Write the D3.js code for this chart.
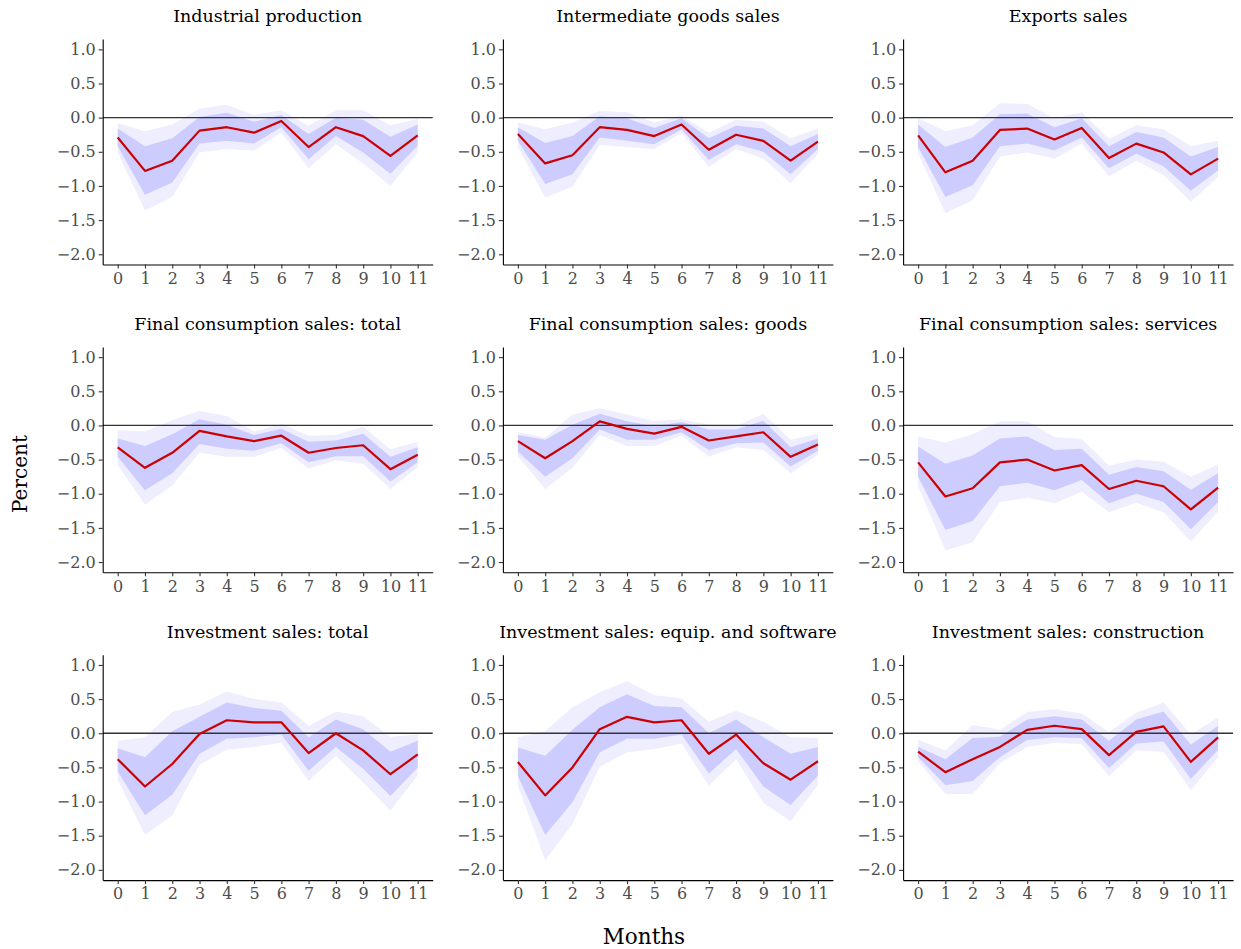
<!DOCTYPE html>
<html>
<head>
<meta charset="utf-8">
<script src="https://cdn.jsdelivr.net/npm/d3@7"></script>
<style>
  body { margin: 0; background: #fff; }
  svg { display: block; }
  text { font-family: "DejaVu Serif", serif; }
</style>
</head>
<body>
<div id="chart"></div>
<script>
// ---------- data ----------
const months = [0,1,2,3,4,5,6,7,8,9,10,11];
const yTicks = [1.0, 0.5, 0.0, -0.5, -1.0, -1.5, -2.0];
const titles = [
  "Industrial production", "Intermediate goods sales", "Exports sales",
  "Final consumption sales: total", "Final consumption sales: goods", "Final consumption sales: services",
  "Investment sales: total", "Investment sales: equip. and software", "Investment sales: construction"
];

// Industrial production
const ipIrf  = [-0.29,-0.78,-0.63,-0.19,-0.14,-0.22,-0.05,-0.43,-0.14,-0.27,-0.56,-0.26];
const ipHi68 = [-0.16,-0.42,-0.30, 0.01, 0.07,-0.06, 0.04,-0.24, 0.00,-0.03,-0.28,-0.10];
const ipLo68 = [-0.42,-1.13,-0.95,-0.38,-0.34,-0.38,-0.14,-0.61,-0.27,-0.51,-0.82,-0.41];
const ipHi90 = [-0.08,-0.20,-0.10, 0.13, 0.19, 0.04, 0.11,-0.12, 0.11, 0.11,-0.11,-0.02];
const ipLo90 = [-0.51,-1.36,-1.16,-0.51,-0.46,-0.48,-0.22,-0.74,-0.39,-0.67,-1.00,-0.51];

// Intermediate goods sales
const igIrf  = [-0.24,-0.67,-0.55,-0.14,-0.18,-0.27,-0.10,-0.47,-0.25,-0.34,-0.63,-0.35];
const igHi68 = [-0.14,-0.37,-0.27, 0.02,-0.01,-0.15,-0.01,-0.30,-0.12,-0.16,-0.42,-0.24];
const igLo68 = [-0.34,-0.97,-0.83,-0.29,-0.34,-0.39,-0.17,-0.62,-0.39,-0.50,-0.83,-0.46];
const igHi90 = [-0.07,-0.17,-0.07, 0.10, 0.08,-0.07, 0.03,-0.22,-0.03,-0.06,-0.30,-0.16];
const igLo90 = [-0.43,-1.17,-1.01,-0.40,-0.43,-0.46,-0.23,-0.72,-0.46,-0.60,-0.96,-0.53];

// Exports sales
const exIrf  = [-0.26,-0.80,-0.63,-0.18,-0.16,-0.32,-0.15,-0.59,-0.38,-0.51,-0.83,-0.60];
const exHi68 = [-0.10,-0.43,-0.29, 0.05, 0.06,-0.14,-0.01,-0.42,-0.21,-0.29,-0.57,-0.43];
const exLo68 = [-0.43,-1.16,-0.99,-0.42,-0.38,-0.48,-0.29,-0.74,-0.53,-0.71,-1.07,-0.77];
const exHi90 = [-0.01,-0.20,-0.11, 0.21, 0.20,-0.01, 0.08,-0.31,-0.11,-0.17,-0.42,-0.34];
const exLo90 = [-0.52,-1.40,-1.21,-0.57,-0.51,-0.60,-0.38,-0.86,-0.63,-0.84,-1.23,-0.87];

// Final consumption sales: total
const fcIrf  = [-0.32,-0.62,-0.40,-0.08,-0.16,-0.23,-0.15,-0.40,-0.33,-0.29,-0.64,-0.43];
const fcHi68 = [-0.19,-0.30,-0.13, 0.09, 0.01,-0.14,-0.05,-0.24,-0.22,-0.12,-0.46,-0.32];
const fcLo68 = [-0.46,-0.95,-0.70,-0.27,-0.34,-0.37,-0.26,-0.54,-0.45,-0.45,-0.82,-0.54];
const fcHi90 = [-0.07,-0.09, 0.08, 0.21, 0.14,-0.09, 0.02,-0.15,-0.14,-0.02,-0.35,-0.24];
const fcLo90 = [-0.58,-1.16,-0.88,-0.40,-0.46,-0.46,-0.33,-0.63,-0.51,-0.56,-0.93,-0.61];

// Final consumption sales: goods
const fgIrf  = [-0.23,-0.48,-0.23, 0.06,-0.05,-0.12,-0.02,-0.22,-0.16,-0.10,-0.46,-0.28];
const fgHi68 = [-0.14,-0.21, 0.01, 0.17, 0.06,-0.01, 0.05,-0.06,-0.06, 0.07,-0.32,-0.19];
const fgLo68 = [-0.38,-0.75,-0.48,-0.06,-0.21,-0.21,-0.10,-0.36,-0.26,-0.25,-0.60,-0.37];
const fgHi90 = [-0.10,-0.18, 0.16, 0.25, 0.16, 0.06, 0.09, 0.01,-0.01, 0.17,-0.21,-0.12];
const fgLo90 = [-0.45,-0.93,-0.62,-0.14,-0.30,-0.30,-0.15,-0.46,-0.32,-0.36,-0.70,-0.43];

// Final consumption sales: services
const fsIrf  = [-0.54,-1.04,-0.92,-0.54,-0.50,-0.66,-0.58,-0.93,-0.81,-0.89,-1.23,-0.91];
const fsHi68 = [-0.31,-0.56,-0.44,-0.19,-0.16,-0.36,-0.34,-0.72,-0.61,-0.67,-0.94,-0.70];
const fsLo68 = [-0.75,-1.53,-1.40,-0.89,-0.84,-0.95,-0.80,-1.14,-1.00,-1.12,-1.52,-1.12];
const fsHi90 = [-0.16,-0.25,-0.13, 0.06, 0.06,-0.17,-0.20,-0.59,-0.50,-0.53,-0.75,-0.57];
const fsLo90 = [-0.89,-1.83,-1.71,-1.12,-1.06,-1.14,-0.97,-1.27,-1.13,-1.27,-1.70,-1.26];

// Investment sales: total
const itIrf  = [-0.38,-0.78,-0.45,-0.01, 0.19, 0.16, 0.16,-0.29, 0.00,-0.25,-0.60,-0.31];
const itHi68 = [-0.22,-0.35, 0.03, 0.24, 0.45, 0.37, 0.33,-0.06, 0.20, 0.06,-0.27,-0.11];
const itLo68 = [-0.56,-1.20,-0.90,-0.30,-0.08,-0.06,-0.02,-0.55,-0.20,-0.52,-0.92,-0.50];
const itHi90 = [-0.11,-0.06, 0.31, 0.42, 0.61, 0.50, 0.45, 0.11, 0.32, 0.25,-0.05,-0.02];
const itLo90 = [-0.68,-1.49,-1.20,-0.46,-0.24,-0.20,-0.14,-0.70,-0.33,-0.72,-1.13,-0.62];

// Investment sales: equip. and software
const ieIrf  = [-0.42,-0.91,-0.50, 0.06, 0.24, 0.16, 0.19,-0.30,-0.02,-0.44,-0.68,-0.41];
const ieHi68 = [-0.21,-0.33, 0.05, 0.38, 0.57, 0.40, 0.38, 0.00, 0.20,-0.06,-0.30,-0.20];
const ieLo68 = [-0.63,-1.49,-1.01,-0.28,-0.08,-0.08,-0.02,-0.59,-0.23,-0.78,-1.05,-0.62];
const ieHi90 = [-0.06, 0.03, 0.38, 0.60, 0.76, 0.56, 0.51, 0.17, 0.33, 0.17,-0.06,-0.07];
const ieLo90 = [-0.77,-1.86,-1.33,-0.49,-0.28,-0.23,-0.15,-0.77,-0.38,-1.02,-1.29,-0.76];

// Investment sales: construction
const icIrf  = [-0.27,-0.57,-0.38,-0.20, 0.05, 0.11, 0.06,-0.32, 0.02, 0.10,-0.42,-0.06];
const icHi68 = [-0.20,-0.38,-0.07,-0.05, 0.20, 0.25, 0.20,-0.11, 0.20, 0.32,-0.17, 0.11];
const icLo68 = [-0.35,-0.76,-0.70,-0.35,-0.10,-0.06,-0.07,-0.51,-0.15,-0.12,-0.67,-0.24];
const icHi90 = [-0.10,-0.25, 0.12, 0.05, 0.31, 0.35, 0.29, 0.02, 0.30, 0.45,-0.02, 0.23];
const icLo90 = [-0.41,-0.89,-0.89,-0.44,-0.20,-0.14,-0.16,-0.63,-0.25,-0.27,-0.83,-0.35];

const panels = [
  [ipIrf, ipLo68, ipHi68, ipLo90, ipHi90],
  [igIrf, igLo68, igHi68, igLo90, igHi90],
  [exIrf, exLo68, exHi68, exLo90, exHi90],
  [fcIrf, fcLo68, fcHi68, fcLo90, fcHi90],
  [fgIrf, fgLo68, fgHi68, fgLo90, fgHi90],
  [fsIrf, fsLo68, fsHi68, fsLo90, fsHi90],
  [itIrf, itLo68, itHi68, itLo90, itHi90],
  [ieIrf, ieLo68, ieHi68, ieLo90, ieHi90],
  [icIrf, icLo68, icHi68, icLo90, icHi90]
];

// ---------- layout ----------
const W = 1241, H = 949;
const colX = [102.7, 502.9, 903.1];
const rowY = [39.1, 346.9, 654.7];
const pw = 330, ph = 225.4;

const svg = d3.select("#chart").append("svg").attr("width", W).attr("height", H);

const x = d3.scaleLinear().domain([-0.55, 11.55]).range([0, pw]);
const y = d3.scaleLinear().domain([-2.15, 1.15]).range([ph, 0]);
const fmt = v => d3.format(".1f")(v).replace("-", "\u2212");

panels.forEach((p, i) => {
  const [irf, lo68, hi68, lo90, hi90] = p;
  const g = svg.append("g").attr("transform", `translate(${colX[i % 3]},${rowY[Math.floor(i / 3)]})`);

  const area = (lo, hi) => d3.area()
    .x((d, k) => x(months[k]))
    .y0((d, k) => y(lo[k]))
    .y1((d, k) => y(hi[k]));

  g.append("path").datum(months).attr("d", area(lo90, hi90)).attr("fill", "#eeeeff");
  g.append("path").datum(months).attr("d", area(lo68, hi68)).attr("fill", "#ccccff");

  g.append("line").attr("x1", 0).attr("x2", pw).attr("y1", y(0)).attr("y2", y(0))
    .attr("stroke", "#333").attr("stroke-width", 1.3);

  g.append("path").datum(irf)
    .attr("d", d3.line().x((d, k) => x(months[k])).y(d => y(d)))
    .attr("fill", "none").attr("stroke", "#cc0000").attr("stroke-width", 2.2)
    .attr("stroke-linejoin", "round");

  const xa = g.append("g").attr("transform", `translate(0,${ph})`)
    .call(d3.axisBottom(x).tickValues(months).tickSize(4).tickSizeOuter(0).tickPadding(4));
  const ya = g.append("g")
    .call(d3.axisLeft(y).tickValues(yTicks).tickFormat(fmt).tickSize(4).tickSizeOuter(0).tickPadding(3));
  [xa, ya].forEach(a => {
    a.select(".domain").attr("stroke", "#000").attr("stroke-width", 1.1);
    a.selectAll(".tick line").attr("stroke", "#333").attr("stroke-width", 1.1);
    a.selectAll(".tick text").attr("fill", "#4d4d4d").style("font-size", "16px")
      .style("font-family", "'DejaVu Serif', serif");
  });

  g.append("text").attr("x", pw / 2).attr("y", -17).attr("text-anchor", "middle")
    .style("font-size", "17.5px").attr("fill", "#000").text(titles[i]);
});

svg.append("text").attr("transform", "translate(27,474) rotate(-90)")
  .attr("text-anchor", "middle").style("font-size", "20px").text("Percent");
svg.append("text").attr("x", 644).attr("y", 944)
  .attr("text-anchor", "middle").style("font-size", "21.5px").text("Months");
</script>
</body>
</html>
